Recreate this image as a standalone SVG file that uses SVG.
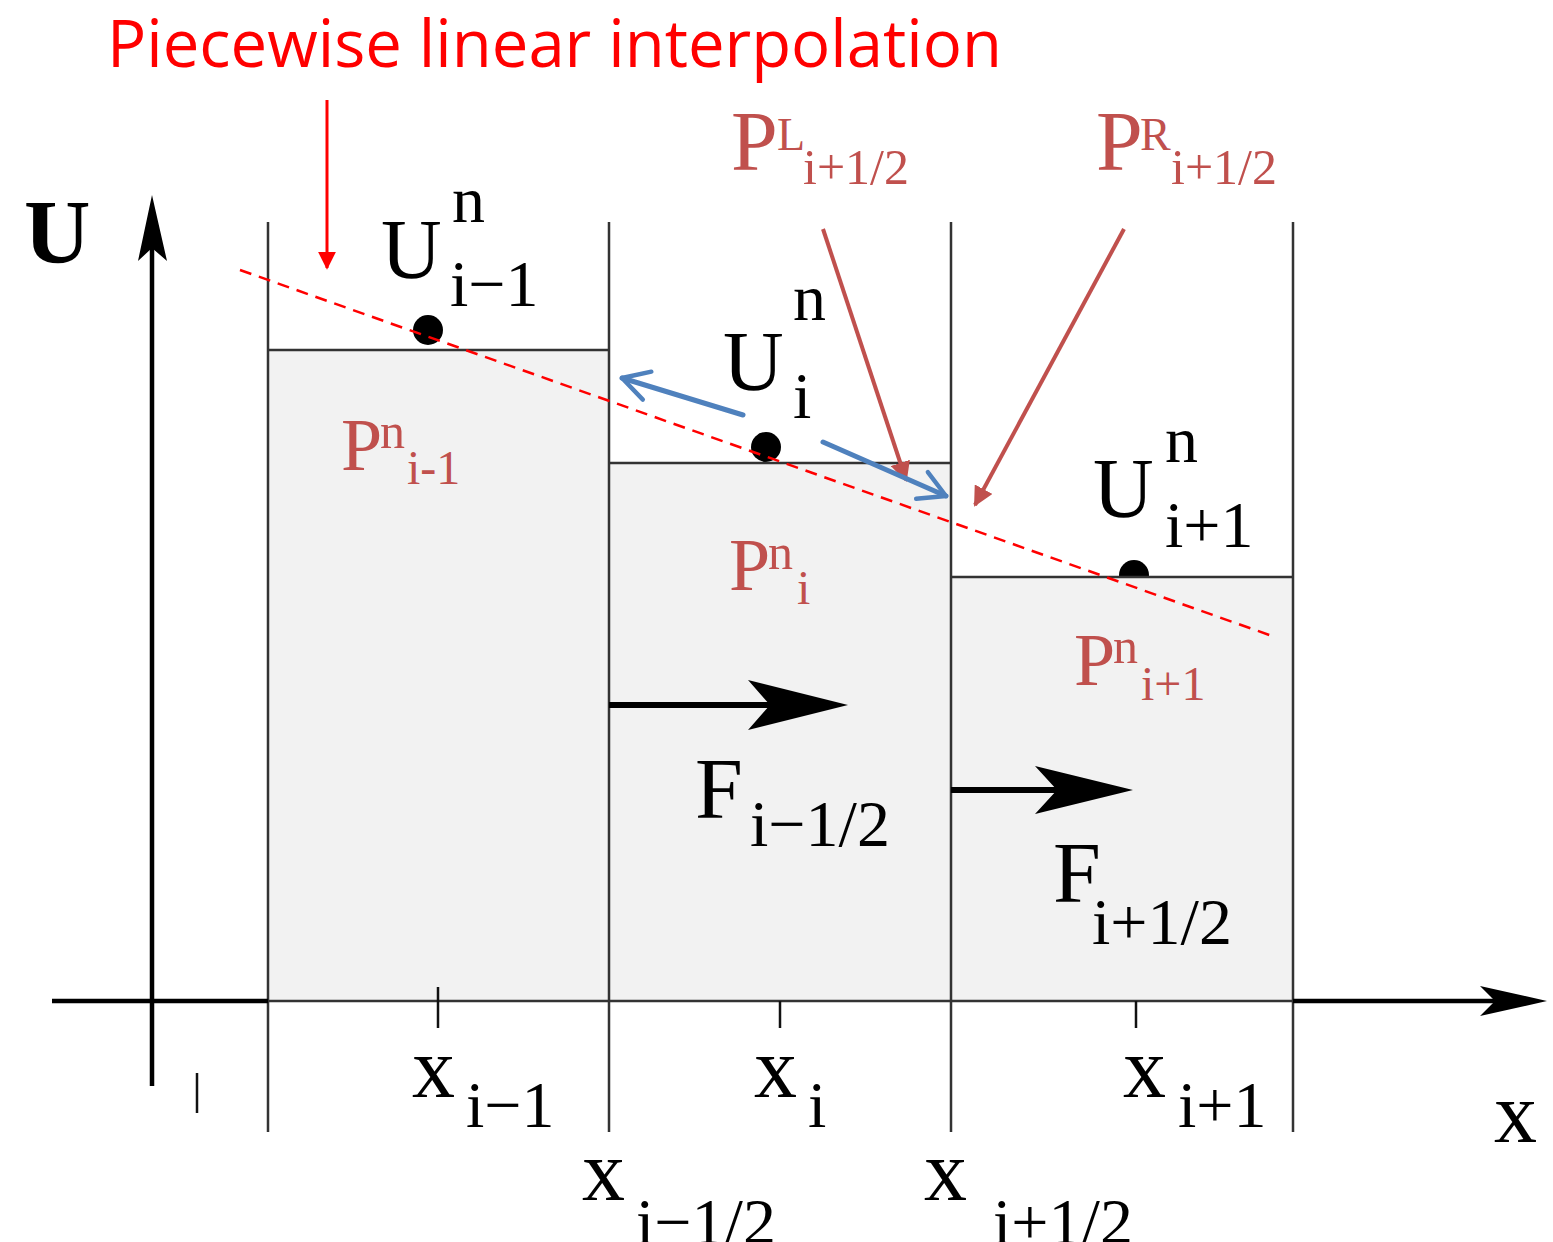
<svg xmlns="http://www.w3.org/2000/svg" width="1553" height="1242" viewBox="0 0 1553 1242">
<style>
.cell{fill:#f2f2f2;stroke:none}
.edge{stroke:#333;stroke-width:2.5;fill:none}
.axis{stroke:#000;stroke-width:4.5;fill:none}
.tick{stroke:#111;stroke-width:2.5}
.dot{fill:#000}
.t{font-family:"Liberation Serif","Times New Roman",serif;fill:#000}
.r{font-family:"Liberation Serif","Times New Roman",serif;fill:#c0504d}
.big{font-size:84px}
.sub{font-size:66px}
.rp{font-size:74px}
.rn{font-size:50px}
.rs{font-size:50px}
.rarrow{stroke:#c0504d;stroke-width:4;fill:none}
.barrow{stroke:#4f81bd;stroke-width:5;fill:none;stroke-linecap:round;stroke-linejoin:round}
.flux{stroke:#000;stroke-width:6}
</style>
<defs>
<marker id="redHead" viewBox="0 0 10 10" refX="9" refY="5" markerWidth="5" markerHeight="5" orient="auto" markerUnits="strokeWidth">
<path d="M0,0 L10,5 L0,10 z" fill="#c0504d"/>
</marker>
<marker id="titleHead" viewBox="0 0 10 10" refX="9" refY="5" markerWidth="6" markerHeight="6" orient="auto" markerUnits="strokeWidth">
<path d="M0,0 L10,5 L0,10 z" fill="#ff0000"/>
</marker>
<marker id="blueHead" viewBox="0 0 12 12" refX="10" refY="6" markerWidth="7" markerHeight="7" orient="auto" markerUnits="strokeWidth">
<path d="M1,1 L10,6 L1,11" fill="none" stroke="#4f81bd" stroke-width="1.5" stroke-linecap="round" stroke-linejoin="round"/>
</marker>
</defs>
<rect width="1553" height="1242" fill="#fff"/>

<g id="title">
<text x="107" y="67" font-family="'Open Sans','Liberation Sans',sans-serif" font-size="66" fill="#ff0000" textLength="895" lengthAdjust="spacingAndGlyphs">Piecewise linear interpolation</text>
</g>

<g id="cells">
<circle class="dot" cx="428" cy="330" r="15"/>
<circle class="dot" cx="766" cy="447" r="15"/>
<circle class="dot" cx="1134" cy="575" r="15"/>
<rect id="cell-i-1" class="cell" x="268" y="350" width="341" height="651"/>
<rect id="cell-i" class="cell" x="609" y="463" width="342" height="538"/>
<rect id="cell-i+1" class="cell" x="951" y="577" width="342" height="424"/>
<line class="edge" x1="268" y1="350" x2="609" y2="350"/>
<line class="edge" x1="609" y1="463" x2="951" y2="463"/>
<line class="edge" x1="951" y1="577" x2="1293" y2="577"/>
<line class="edge" x1="268" y1="222" x2="268" y2="1132"/>
<line class="edge" x1="609" y1="222" x2="609" y2="1132"/>
<line class="edge" x1="951" y1="222" x2="951" y2="1132"/>
<line class="edge" x1="1293" y1="222" x2="1293" y2="1132"/>
<line class="edge" x1="268" y1="1001" x2="1293" y2="1001"/>
</g>

<g id="axes">
<line class="axis" x1="52" y1="1001" x2="268" y2="1001"/>
<line class="axis" x1="1293" y1="1001" x2="1495" y2="1001"/>
<polygon points="1547,1001 1480,986 1495,1001 1480,1016" fill="#000"/>
<line class="axis" x1="152" y1="1086" x2="152" y2="245"/>
<polygon points="152,195 167,261 152,248 138,261" fill="#000"/>
<line class="tick" x1="438" y1="987" x2="438" y2="1028"/>
<line class="tick" x1="780" y1="1001" x2="780" y2="1028"/>
<line class="tick" x1="1136" y1="1001" x2="1136" y2="1028"/>
<line class="tick" x1="197" y1="1073" x2="197" y2="1113"/>
<text class="t" x="24" y="263" font-size="92" font-weight="bold">U</text>
<text class="t" x="1494" y="1142" font-size="86">x</text>
</g>

<g id="interp-line">
<line x1="240" y1="270" x2="1275" y2="637" stroke="#ff0000" stroke-width="2.5" stroke-dasharray="12 8"/>
</g>

<g id="U-labels">
<text class="t big" x="381" y="278">U</text>
<text class="t sub" x="452" y="222">n</text>
<text class="t sub" x="450" y="306">i−1</text>
<text class="t big" x="723" y="390">U</text>
<text class="t sub" x="793" y="320">n</text>
<text class="t sub" x="793" y="418">i</text>
<text class="t big" x="1093" y="517">U</text>
<text class="t sub" x="1165" y="462">n</text>
<text class="t sub" x="1165" y="547">i+1</text>
</g>

<g id="P-labels">
<text class="r rp" x="341" y="470">P</text>
<text class="r rn" x="380" y="448">n</text>
<text class="r" font-size="48" x="407" y="484">i-1</text>
<text class="r rp" x="729" y="590">P</text>
<text class="r rn" x="768" y="569">n</text>
<text class="r" font-size="48" x="797" y="604">i</text>
<text class="r rp" x="1074" y="685">P</text>
<text class="r rn" x="1113" y="663">n</text>
<text class="r" font-size="48" x="1141" y="700">i+1</text>
</g>

<g id="PL-label">
<text class="r" font-size="84" x="731" y="170">P</text>
<text class="r" font-size="46" x="777" y="150">L</text>
<text class="r rs" x="803" y="184">i+1/2</text>
</g>
<g id="PR-label">
<text class="r" font-size="84" x="1096" y="170">P</text>
<text class="r" font-size="46" x="1140" y="150">R</text>
<text class="r rs" x="1171" y="184">i+1/2</text>
</g>

<g id="F-labels">
<text class="t" font-size="86" x="695" y="818">F</text>
<text class="t sub" x="750" y="846">i−1/2</text>
<text class="t" font-size="86" x="1053" y="902">F</text>
<text class="t sub" x="1092" y="944">i+1/2</text>
</g>

<g id="x-labels">
<text class="t" font-size="86" x="412" y="1097">x</text>
<text class="t sub" x="466" y="1127">i−1</text>
<text class="t" font-size="86" x="754" y="1097">x</text>
<text class="t sub" x="808" y="1127">i</text>
<text class="t" font-size="86" x="1123" y="1097">x</text>
<text class="t sub" x="1178" y="1127">i+1</text>
<text class="t" font-size="86" x="582" y="1200">x</text>
<text class="t sub" x="636" y="1244">i−1/2</text>
<text class="t" font-size="86" x="924" y="1200">x</text>
<text class="t sub" x="993" y="1244">i+1/2</text>
</g>

<g id="connectors">
<line x1="327" y1="100" x2="327" y2="268" stroke="#ff0000" stroke-width="3" marker-end="url(#titleHead)"/>
<line class="rarrow" x1="823" y1="229" x2="906" y2="480" marker-end="url(#redHead)"/>
<line class="rarrow" x1="1124" y1="229" x2="975" y2="505" marker-end="url(#redHead)"/>
<line class="barrow" x1="743" y1="415" x2="622" y2="378" marker-end="url(#blueHead)"/>
<line class="barrow" x1="823" y1="442" x2="946" y2="496" marker-end="url(#blueHead)"/>
<line class="flux" x1="609" y1="705" x2="772" y2="705"/>
<polygon points="848,705 748,680 770,705 748,730" fill="#000"/>
<line class="flux" x1="951" y1="790" x2="1058" y2="790"/>
<polygon points="1133,790 1035,766 1057,790 1035,814" fill="#000"/>
</g>
</svg>
